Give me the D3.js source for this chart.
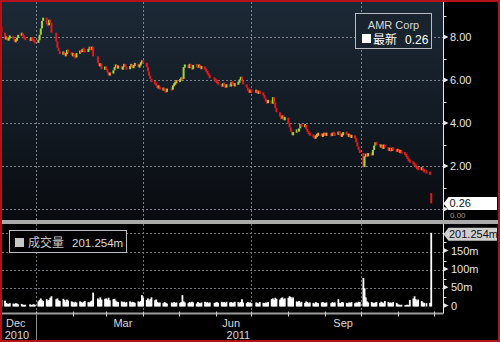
<!DOCTYPE html>
<html><head><meta charset="utf-8">
<script src="https://cdn.jsdelivr.net/npm/d3@7"></script>
<style>html,body{margin:0;padding:0;background:#000}svg{display:block}</style>
</head><body>
<svg id="chart" width="500" height="342"></svg>
<script>
// ---- DATA ----
const monthKeys = ["2010-12","2011-01","2011-02","2011-03","2011-04","2011-05","2011-06","2011-07","2011-08","2011-09","2011-10","2011-11"];
const holidays = ["2010-12-24","2011-01-17","2011-02-21","2011-04-22","2011-05-30","2011-07-04","2011-09-05","2011-11-24"];

const closeDec10 = [8.7,8.5,8.2,7.9,8.0,7.85,7.95,8.05,7.9,7.8,7.85,7.95,8.1,8.15,8.05,7.95,7.9,7.85,7.95,7.9,7.8,7.75];
const closeJan11 = [7.85,8.1,8.4,8.75,8.9,8.6,8.55,8.8,8.65,8.2,7.8,7.5,7.35,7.2,7.3,7.15,7.2,7.4,7.3,7.15];
const closeFeb11 = [7.2,7.1,7.05,7.25,7.35,7.3,7.45,7.4,7.3,7.45,7.5,7.4,7.55,7.1,6.8,6.65,6.75,6.5,6.6];
const closeMar11 = [6.5,6.35,6.25,6.3,6.45,6.6,6.7,6.55,6.65,6.5,6.6,6.75,6.6,6.5,6.65,6.7,6.55,6.7,6.75,6.6,6.7,6.8,6.88];
const closeApr11 = [6.8,6.6,6.4,6.2,6.05,5.9,5.85,5.75,5.65,5.7,5.55,5.6,5.5,5.45,5.6,5.55,5.75,5.8,5.9,5.95];
const closeMay11 = [6.0,6.1,6.05,6.6,6.7,6.55,6.75,6.6,6.5,6.7,6.65,6.6,6.7,6.55,6.6,6.5,6.4,6.3,6.2,6.1,6.0];
const closeJun11 = [5.95,5.9,5.8,5.7,5.85,5.75,5.65,5.8,5.7,5.9,5.85,5.75,5.8,5.9,6.0,6.15,5.95,5.8,5.65,5.5,5.45,5.5];
const closeJul11 = [5.45,5.5,5.4,5.45,5.4,5.3,5.15,5.0,4.95,5.05,4.9,5.2,4.95,4.7,4.5,4.3,4.2,4.35,4.15,4.25];
const closeAug11 = [4.0,3.8,3.6,3.45,3.55,3.7,3.6,3.75,3.95,3.85,3.9,3.7,3.6,3.5,3.45,3.35,3.3,3.4,3.45,3.5,3.4,3.45,3.5];
const closeSep11 = [3.45,3.5,3.4,3.55,3.5,3.45,3.6,3.5,3.4,3.45,3.55,3.5,3.4,3.45,3.35,3.4,3.3,3.1,2.9,2.75,2.6];
const closeOct11 = [1.95,2.45,2.55,2.45,2.6,2.5,2.75,2.95,3.1,3.0,2.9,2.95,2.8,3.0,2.85,2.75,2.8,2.7,2.85,2.75,2.7];
const closeNov11 = [2.75,2.65,2.7,2.6,2.55,2.45,2.35,2.25,2.2,2.1,2.05,1.95,1.9,1.85,1.9,1.8,1.75,1.7,1.62,0.26];
const lastDayOpen = 0.74; // gap-down open on the final session

const volDec10 = [11,12,18,16,9,8,7,9,8,7,9,8,6,7,5,4,5,6,4,5,6,5];
const volJan11 = [14,18,22,17,15,20,16,18,24,28,20,22,17,15,21,18,13,19,16,14];
const volFeb11 = [12,10,13,11,14,12,10,13,15,12,11,14,16,38,22,18,25,19,21];
const volMar11 = [22,19,24,17,20,21,16,13,12,14,11,13,10,12,14,11,13,12,10,14,12,15,31];
const volApr11 = [24,18,22,16,20,25,17,19,12,10,11,9,12,10,8,11,9,12,10,11];
const volMay11 = [10,12,31,14,11,9,12,10,13,11,8,12,10,9,11,13,10,12,9,11,10];
const volJun11 = [11,12,10,13,11,12,10,13,11,12,10,11,13,12,10,12,20,11,9,12,10,11];
const volJul11 = [9,11,10,8,12,10,9,11,10,12,20,22,18,24,21,19,23,25,20,22];
const volAug11 = [24,28,26,22,25,14,12,15,11,13,10,14,12,9,11,10,8,12,10,9,11,12,10];
const volSep11 = [10,11,9,12,10,11,20,10,9,12,11,10,9,11,10,12,9,11,10,13,12];
const volOct11 = [78,50,25,14,11,12,10,9,11,12,10,13,11,9,15,12,10,11,9,12,10];
const volNov11 = [6,5,4,5,3,4,5,4,18,22,28,20,16,19,15,11,10,9,10,201.254];

const priceCloses = [closeDec10,closeJan11,closeFeb11,closeMar11,closeApr11,closeMay11,closeJun11,closeJul11,closeAug11,closeSep11,closeOct11,closeNov11];
const volumes = [volDec10,volJan11,volFeb11,volMar11,volApr11,volMay11,volJun11,volJul11,volAug11,volSep11,volOct11,volNov11];

const priceTicks = [0,2,4,6,8];
const priceMinorTicks = [1,3,5,7,9];
const volTicks = [0,50,100,150];
const volMinorTicks = [25,75,125,175];
const volGrid = [50,100,150,200];
const quarterLines = ["2011-01-01","2011-04-01","2011-07-01","2011-10-01"];
const monthTicks = ["2011-01-01","2011-02-01","2011-03-01","2011-04-01","2011-05-01","2011-06-01","2011-07-01","2011-08-01","2011-09-01","2011-10-01","2011-11-01","2011-12-01"];
const monthLabels = [["2010-12-15","Dec"],["2011-03-15","Mar"],["2011-06-14","Jun"],["2011-09-16","Sep"]];
const yearLabels = [["2010-12-16","2010"],["2011-06-20","2011"]];
const yearSeparators = ["2011-01-01"];
const securityName = "AMR Corp";
const lastLabel = "最新";
const lastPrice = 0.26;
const volLabel = "成交量";
const lastVolume = 201.254;

// ---- BUILD ROWS ----
const parse = d3.timeParse("%Y-%m-%d");
const fmtDay = d3.timeFormat("%Y-%m-%d");
const holidaySet = new Set(holidays);
const rows = [];
monthKeys.forEach((mk, mi) => {
  const [yy, mm] = mk.split("-").map(Number);
  const days = [];
  for (let d = new Date(yy, mm - 1, 1); d.getMonth() === mm - 1; d = new Date(d.getFullYear(), d.getMonth(), d.getDate() + 1)) {
    const wd = d.getDay();
    if (wd === 0 || wd === 6 || holidaySet.has(fmtDay(d))) continue;
    days.push(new Date(d));
  }
  priceCloses[mi].forEach((c, i) => rows.push({date: days[i], close: c, vol: volumes[mi][i]}));
});
rows.forEach((r, i) => {
  r.open = i === 0 ? r.close : rows[i - 1].close;
});
rows[rows.length - 1].open = lastDayOpen;

// ---- SCALES ----
const svg = d3.select("#chart");
const left = 2, axisX = 443.5;
const priceTop = 2, priceBottom = 220, volTop = 224, xAxisY = 313.5;
const x = d3.scaleTime().domain([parse("2011-01-01"), parse("2011-10-01")]).range([36, 361]);
const y = d3.scaleLinear().domain([0, 8]).range([209, 37]);
const yv = d3.scaleLinear().domain([0, 200]).range([306.5, 233.3]);

const defs = svg.append("defs");
const grad = defs.append("linearGradient").attr("id", "bg").attr("x1", 0).attr("x2", 0).attr("y1", 0).attr("y2", 1);
grad.append("stop").attr("offset", "0%").attr("stop-color", "#1c2936");
grad.append("stop").attr("offset", "55%").attr("stop-color", "#121a23");
grad.append("stop").attr("offset", "100%").attr("stop-color", "#090b0f");
defs.append("clipPath").attr("id", "pclip").append("rect").attr("x", left).attr("y", priceTop).attr("width", axisX - left).attr("height", priceBottom - priceTop);
defs.append("clipPath").attr("id", "vclip").append("rect").attr("x", left).attr("y", volTop).attr("width", axisX - left).attr("height", xAxisY - volTop);

svg.append("rect").attr("width", 500).attr("height", 342).attr("fill", "#000");
svg.append("rect").attr("x", left).attr("y", priceTop).attr("width", axisX - left).attr("height", priceBottom - priceTop).attr("fill", "url(#bg)");

const gridColor = "#7d838b";
// price grid
const pg = svg.append("g").attr("clip-path", "url(#pclip)");
pg.selectAll("line.h").data(priceTicks).join("line")
  .attr("x1", left).attr("x2", axisX).attr("y1", d => Math.round(y(d)) + 0.5).attr("y2", d => Math.round(y(d)) + 0.5)
  .attr("stroke", gridColor).attr("stroke-dasharray", "2,2");
pg.selectAll("line.v").data(quarterLines).join("line")
  .attr("x1", d => Math.round(x(parse(d))) + 0.5).attr("x2", d => Math.round(x(parse(d))) + 0.5)
  .attr("y1", priceTop).attr("y2", priceBottom)
  .attr("stroke", gridColor).attr("stroke-dasharray", "2,2");

// volume grid
const vg = svg.append("g").attr("clip-path", "url(#vclip)");
vg.selectAll("line.h").data(volGrid).join("line")
  .attr("x1", left).attr("x2", axisX).attr("y1", d => Math.round(yv(d)) + 0.5).attr("y2", d => Math.round(yv(d)) + 0.5)
  .attr("stroke", "#6f747a").attr("stroke-dasharray", "2,2");
vg.selectAll("line.v").data(quarterLines).join("line")
  .attr("x1", d => Math.round(x(parse(d))) + 0.5).attr("x2", d => Math.round(x(parse(d))) + 0.5)
  .attr("y1", volTop).attr("y2", xAxisY)
  .attr("stroke", "#6f747a").attr("stroke-dasharray", "2,2");

// legend (price)
const lg = svg.append("g");
lg.append("rect").attr("x", 355.5).attr("y", 13.5).attr("width", 76).attr("height", 35)
  .attr("fill", "#19232e").attr("stroke", "#b9bcc0");
lg.append("text").attr("x", 393.5).attr("y", 29).attr("text-anchor", "middle")
  .attr("font-family", "Liberation Sans, Arial, sans-serif").attr("font-size", 11).attr("fill", "#d6d8da").text(securityName);
lg.append("rect").attr("x", 362).attr("y", 34).attr("width", 9).attr("height", 9).attr("fill", "#ffffff");
lg.append("text").attr("x", 373).attr("y", 43.5)
  .attr("font-family", "Noto Sans CJK SC, sans-serif").attr("font-size", 12).attr("fill", "#ffffff").text(lastLabel);
lg.append("text").attr("x", 405).attr("y", 43.5)
  .attr("font-family", "Liberation Sans, Arial, sans-serif").attr("font-size", 12).attr("fill", "#ffffff").text(d3.format(".2f")(lastPrice));

// candles
const upColor = "#9fd63c", flatColor = "#e8a22e", downColor = "#e3191c";
const minBody = 3.2;
const cg = svg.append("g").attr("clip-path", "url(#pclip)");
cg.selectAll("rect").data(rows).join("rect")
  .attr("x", d => x(d.date) - 1)
  .attr("width", 2)
  .attr("y", d => {
    const top = y(Math.max(d.open, d.close)), bot = y(Math.min(d.open, d.close));
    const h = Math.max(minBody, bot - top);
    return (top + bot) / 2 - h / 2;
  })
  .attr("height", d => Math.max(minBody, Math.abs(y(d.open) - y(d.close))))
  .attr("fill", d => d.close < d.open ? downColor : (d.close - d.open > 0.08 ? upColor : flatColor));

// volume bars
const vb = svg.append("g").attr("clip-path", "url(#vclip)");
vb.selectAll("rect").data(rows).join("rect")
  .attr("x", d => x(d.date) - 0.9)
  .attr("width", 1.8)
  .attr("y", d => yv(d.vol))
  .attr("height", d => yv(0) - yv(d.vol))
  .attr("fill", "#ffffff");

// volume legend
const vl = svg.append("g");
vl.append("rect").attr("x", 9.5).attr("y", 230.5).attr("width", 117).attr("height", 22)
  .attr("fill", "#000").attr("stroke", "#b9bcc0");
vl.append("rect").attr("x", 15).attr("y", 238).attr("width", 9).attr("height", 9).attr("fill", "#c8c8c8");
vl.append("text").attr("x", 28).attr("y", 247)
  .attr("font-family", "Noto Sans CJK SC, sans-serif").attr("font-size", 12).attr("fill", "#c8c8c8").text(volLabel);
vl.append("text").attr("x", 72).attr("y", 246.5)
  .attr("font-family", "Liberation Sans, Arial, sans-serif").attr("font-size", 11.5).attr("fill", "#dcdcdc").text(d3.format(".3f")(lastVolume) + "m");

// separator band
svg.append("rect").attr("x", left).attr("y", priceBottom).attr("width", 498 - left).attr("height", 4).attr("fill", "#aaaaaa");

// right axis
const font = "Liberation Sans, Arial, sans-serif";
svg.append("line").attr("x1", axisX).attr("x2", axisX).attr("y1", priceTop).attr("y2", priceBottom).attr("stroke", "#e8e8e8");
svg.append("line").attr("x1", axisX).attr("x2", axisX).attr("y1", volTop).attr("y2", xAxisY).attr("stroke", "#e8e8e8");
const ax = svg.append("g");
ax.selectAll("line.pm").data(priceMinorTicks).join("line")
  .attr("x1", axisX).attr("x2", axisX + 3).attr("y1", d => Math.round(y(d)) + 0.5).attr("y2", d => Math.round(y(d)) + 0.5).attr("stroke", "#e8e8e8");
ax.selectAll("path.pt").data(priceTicks).join("path")
  .attr("d", d => { const yy = y(d); return `M${axisX},${yy - 2.5}L${axisX + 5},${yy}L${axisX},${yy + 2.5}Z`; })
  .attr("fill", "#e8e8e8");
ax.selectAll("text.pl").data(priceTicks.filter(d => d > 0)).join("text")
  .attr("x", 450).attr("y", d => y(d) + 4)
  .attr("font-family", font).attr("font-size", 11).attr("fill", "#e6e6e6")
  .text(d => d3.format(".2f")(d));
ax.selectAll("line.vm").data(volMinorTicks).join("line")
  .attr("x1", axisX).attr("x2", axisX + 3).attr("y1", d => Math.round(yv(d)) + 0.5).attr("y2", d => Math.round(yv(d)) + 0.5).attr("stroke", "#e8e8e8");
ax.selectAll("path.vt").data(volTicks).join("path")
  .attr("d", d => { const yy = yv(d) - 1; return `M${axisX},${yy - 2.5}L${axisX + 5},${yy}L${axisX},${yy + 2.5}Z`; })
  .attr("fill", "#e8e8e8");
ax.selectAll("text.vl").data(volTicks).join("text")
  .attr("x", 451).attr("y", d => yv(d) + 3)
  .attr("font-family", font).attr("font-size", 11).attr("fill", "#e6e6e6")
  .text(d => d === 0 ? "0" : d + "m");

// 0.00 label peeking out just under the last-price tag
ax.append("text").attr("x", 450).attr("y", y(0) + 8.5).attr("font-family", font).attr("font-size", 8).attr("fill", "#9a9a9a").text(d3.format(".2f")(0));
// last price tag
const lp = y(lastPrice);
ax.append("path").attr("d", `M${axisX},${lp}L${axisX + 5},${lp - 6.5}L497,${lp - 6.5}L497,${lp + 6.5}L${axisX + 5},${lp + 6.5}Z`).attr("fill", "#ffffff");
ax.append("text").attr("x", 449.5).attr("y", lp + 3.5).attr("font-family", font).attr("font-size", 11).attr("fill", "#111").text(d3.format(".2f")(lastPrice));
// last volume tag
const lv = yv(lastVolume) + 1.5;
ax.append("path").attr("d", `M${axisX},${lv}L${axisX + 5},${lv - 6.5}L497,${lv - 6.5}L497,${lv + 6.5}L${axisX + 5},${lv + 6.5}Z`).attr("fill", "#cfcfcf");
ax.append("text").attr("x", 449).attr("y", lv + 4).attr("font-family", font).attr("font-size", 11).attr("fill", "#111").text(d3.format(".3f")(lastVolume) + "m");

// x axis
svg.append("line").attr("x1", left).attr("x2", axisX).attr("y1", xAxisY).attr("y2", xAxisY).attr("stroke", "#9c9c9c").attr("stroke-width", 2);
svg.selectAll("line.mt").data(monthTicks).join("line")
  .attr("x1", d => Math.round(x(parse(d))) + 0.5).attr("x2", d => Math.round(x(parse(d))) + 0.5)
  .attr("y1", xAxisY - 2).attr("y2", xAxisY + 3).attr("stroke", "#d0d0d0");
svg.selectAll("line.ys").data(yearSeparators).join("line")
  .attr("x1", d => Math.round(x(parse(d))) + 0.5).attr("x2", d => Math.round(x(parse(d))) + 0.5)
  .attr("y1", xAxisY).attr("y2", 340).attr("stroke", "#8a8a8a");
svg.selectAll("text.ml").data(monthLabels).join("text")
  .attr("x", d => x(parse(d[0]))).attr("y", 326.5).attr("text-anchor", "middle")
  .attr("font-family", font).attr("font-size", 11).attr("fill", "#d8d8d8").text(d => d[1]);
svg.selectAll("text.yl").data(yearLabels).join("text")
  .attr("x", d => x(parse(d[0]))).attr("y", 338.5).attr("text-anchor", "middle")
  .attr("font-family", font).attr("font-size", 11).attr("fill", "#d8d8d8").text(d => d[1]);

// red frame
svg.append("rect").attr("x", 1).attr("y", 1).attr("width", 498).attr("height", 340)
  .attr("fill", "none").attr("stroke", "#b3121a").attr("stroke-width", 2);
</script>
</body></html>
